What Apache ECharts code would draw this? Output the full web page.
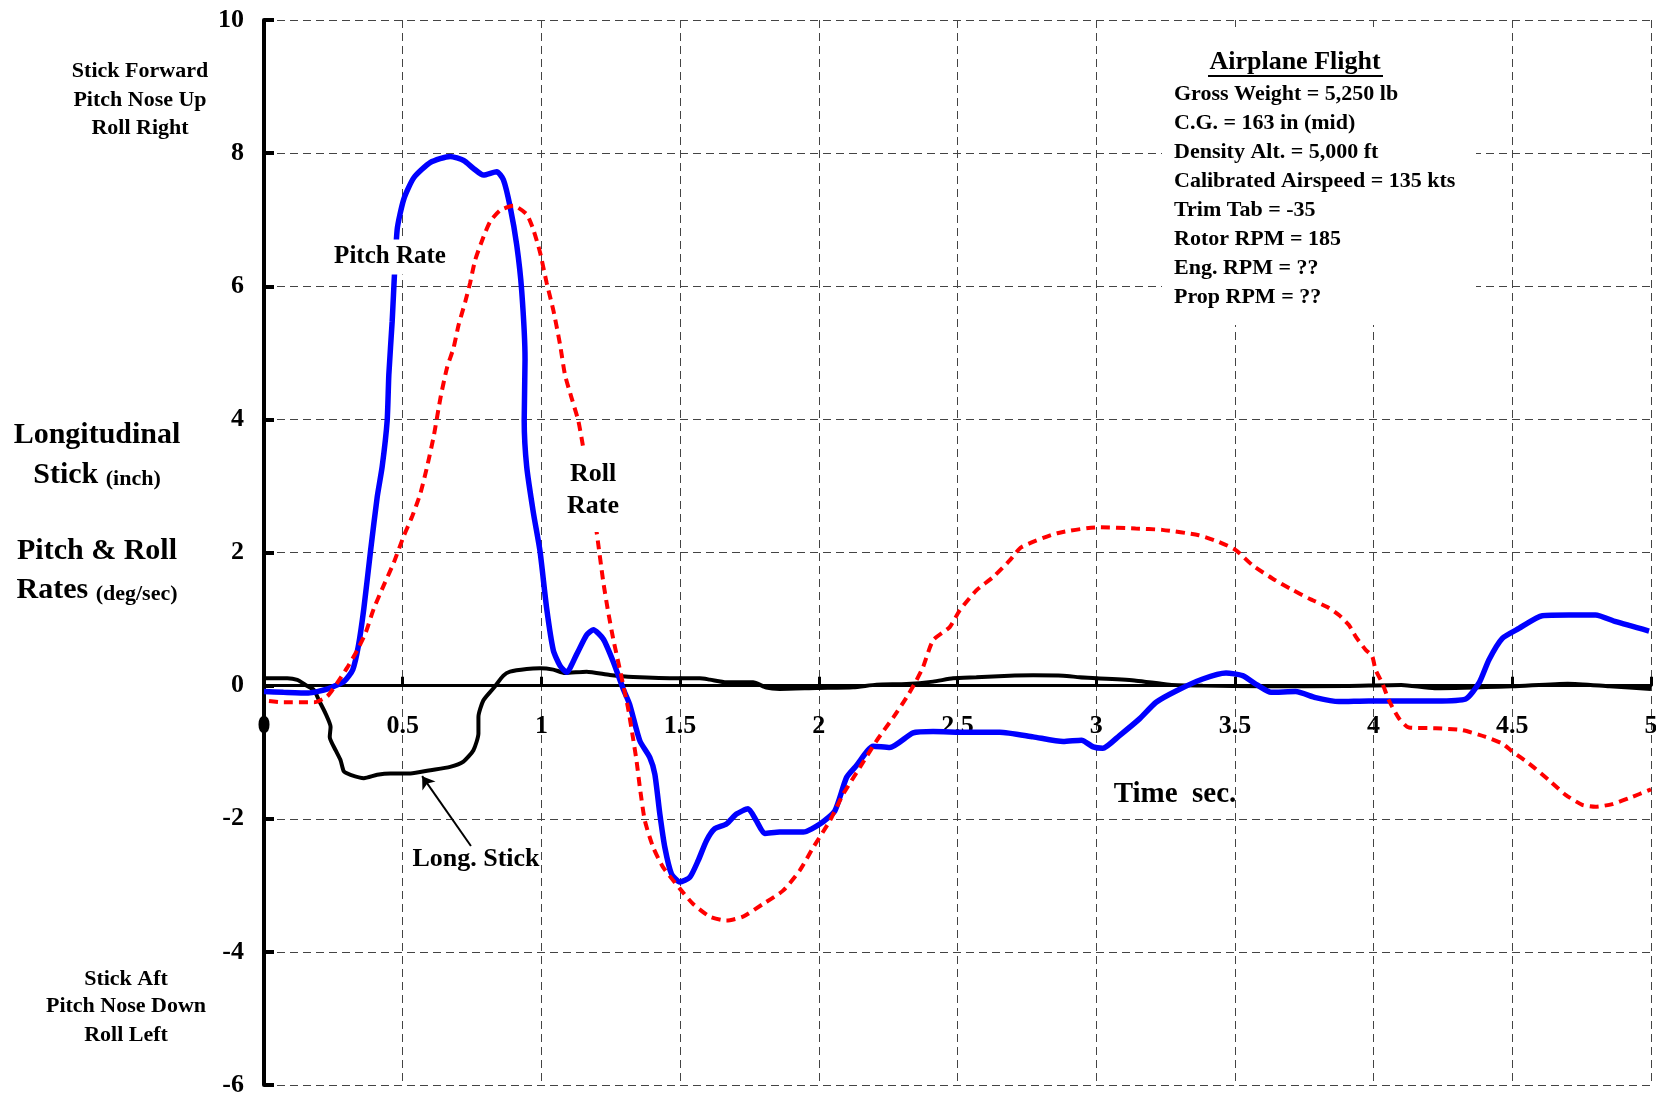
<!DOCTYPE html>
<html>
<head>
<meta charset="utf-8">
<script src="https://cdn.jsdelivr.net/npm/echarts@6/dist/echarts.min.js"></script>
<style>
  html, body { margin: 0; padding: 0; background: #fff; }
  #box { width: 1656px; height: 1094px; }
</style>
</head>
<body>
<div id="box"></div>
<script>
// time (sec) vs value
var pitchRate = [
    [0, -0.09], [0.07, -0.1], [0.16, -0.11], [0.23, -0.05], [0.29, 0.07], [0.32, 0.24],
    [0.34, 0.59], [0.36, 1.16], [0.384, 2.02], [0.408, 2.83], [0.426, 3.29], [0.444, 3.98],
    [0.45, 4.67], [0.462, 5.47], [0.48, 6.85], [0.504, 7.31], [0.54, 7.63], [0.6, 7.86],
    [0.671, 7.95], [0.72, 7.89], [0.755, 7.77], [0.791, 7.67], [0.839, 7.72], [0.863, 7.6],
    [0.887, 7.2], [0.911, 6.62], [0.929, 5.93], [0.941, 4.9], [0.938, 3.98], [0.947, 3.29],
    [0.971, 2.6], [0.995, 2.02], [1.019, 1.16], [1.043, 0.53], [1.067, 0.3], [1.091, 0.2],
    [1.127, 0.47], [1.163, 0.76], [1.187, 0.84], [1.223, 0.7], [1.259, 0.36], [1.295, -0.05],
    [1.318, -0.28], [1.355, -0.83], [1.391, -1.08], [1.409, -1.33], [1.427, -1.93], [1.445, -2.43],
    [1.469, -2.83], [1.499, -2.95], [1.535, -2.88], [1.565, -2.63], [1.595, -2.33], [1.625, -2.15],
    [1.667, -2.08], [1.703, -1.93], [1.745, -1.85], [1.775, -2.03], [1.805, -2.22], [1.859, -2.2],
    [1.944, -2.2], [2.004, -2.08], [2.058, -1.88], [2.1, -1.38], [2.136, -1.2], [2.196, -0.91],
    [2.256, -0.93], [2.34, -0.71], [2.412, -0.69], [2.532, -0.7], [2.652, -0.7], [2.773, -0.77],
    [2.881, -0.84], [2.947, -0.82], [2.989, -0.92], [3.024, -0.94], [3.084, -0.75], [3.156, -0.5],
    [3.216, -0.25], [3.288, -0.08], [3.384, 0.1], [3.468, 0.19], [3.528, 0.15], [3.58, 0.01],
    [3.63, -0.1], [3.719, -0.09], [3.791, -0.18], [3.875, -0.24], [3.983, -0.23], [4.103, -0.23],
    [4.224, -0.23], [4.332, -0.2], [4.38, 0.04], [4.416, 0.39], [4.464, 0.71], [4.524, 0.86],
    [4.608, 1.05], [4.704, 1.06], [4.8, 1.06], [4.873, 0.96], [4.993, 0.82]
];
var rollRate = [
    [0.018, -0.23], [0.07, -0.25], [0.18, -0.25], [0.228, -0.16], [0.264, 0.04], [0.3, 0.27],
    [0.336, 0.53], [0.366, 0.79], [0.396, 1.16], [0.432, 1.51], [0.468, 1.85], [0.504, 2.25],
    [0.534, 2.54], [0.564, 2.89], [0.588, 3.29], [0.612, 3.75], [0.636, 4.32], [0.66, 4.78],
    [0.683, 5.07], [0.701, 5.41], [0.725, 5.76], [0.743, 6.05], [0.761, 6.39], [0.791, 6.74],
    [0.815, 6.97], [0.851, 7.14], [0.899, 7.21], [0.947, 7.08], [0.971, 6.85], [0.995, 6.51],
    [1.019, 6.05], [1.043, 5.64], [1.067, 5.13], [1.085, 4.67], [1.109, 4.32], [1.133, 3.98],
    [1.151, 3.57], [1.175, 2.95], [1.199, 2.31], [1.223, 1.56], [1.241, 1.1], [1.259, 0.7],
    [1.283, 0.24], [1.312, -0.33], [1.33, -0.78], [1.343, -1.13], [1.355, -1.53], [1.373, -2.03],
    [1.403, -2.43], [1.439, -2.73], [1.499, -3.05], [1.547, -3.28], [1.607, -3.47], [1.667, -3.53],
    [1.727, -3.47], [1.799, -3.28], [1.871, -3.08], [1.931, -2.78], [1.98, -2.43], [2.04, -2.03],
    [2.088, -1.63], [2.148, -1.23], [2.208, -0.83], [2.268, -0.48], [2.316, -0.18], [2.352, 0.08],
    [2.376, 0.28], [2.412, 0.68], [2.472, 0.88], [2.508, 1.13], [2.568, 1.43], [2.628, 1.63],
    [2.688, 1.88], [2.73, 2.08], [2.86, 2.29], [3.01, 2.38], [3.142, 2.36], [3.238, 2.34],
    [3.37, 2.26], [3.442, 2.16], [3.502, 2.04], [3.563, 1.81], [3.635, 1.61], [3.707, 1.44],
    [3.767, 1.31], [3.833, 1.18], [3.875, 1.06], [3.911, 0.91], [3.935, 0.74], [3.971, 0.54],
    [3.995, 0.44], [4.007, 0.24], [4.031, 0.04], [4.055, -0.22], [4.091, -0.49], [4.127, -0.63],
    [4.224, -0.64], [4.32, -0.67], [4.404, -0.77], [4.464, -0.87], [4.5, -0.99], [4.56, -1.17],
    [4.632, -1.42], [4.692, -1.64], [4.752, -1.79], [4.8, -1.82], [4.861, -1.78], [4.921, -1.69],
    [5.0, -1.56]
];
var longStick = [
    [0, 0.11], [0.084, 0.11], [0.12, 0.085], [0.15, 0.01], [0.18, -0.065], [0.198, -0.22],
    [0.222, -0.42], [0.24, -0.62], [0.237, -0.77], [0.258, -0.97], [0.276, -1.12], [0.288, -1.29],
    [0.312, -1.34], [0.36, -1.39], [0.408, -1.34], [0.456, -1.32], [0.528, -1.32], [0.6, -1.27],
    [0.671, -1.22], [0.719, -1.14], [0.755, -0.97], [0.773, -0.72], [0.773, -0.47], [0.791, -0.22],
    [0.827, -0.04], [0.863, 0.15], [0.887, 0.21], [0.947, 0.25], [0.995, 0.26], [1.043, 0.24],
    [1.085, 0.19], [1.163, 0.21], [1.247, 0.16], [1.331, 0.13], [1.499, 0.11], [1.571, 0.11],
    [1.607, 0.09], [1.667, 0.05], [1.763, 0.05], [1.811, -0.03], [1.859, -0.05], [1.992, -0.035],
    [2.124, -0.025], [2.208, 0.015], [2.316, 0.025], [2.412, 0.06], [2.484, 0.11], [2.568, 0.125],
    [2.688, 0.15], [2.773, 0.155], [2.881, 0.15], [2.94, 0.125], [3.0, 0.11], [3.144, 0.075],
    [3.264, 0.015], [3.384, 0], [3.6, -0.01], [3.9, -0.005], [4.1, 0.01], [4.22, -0.04],
    [4.5, -0.01], [4.7, 0.03], [4.85, -0.01], [5.0, -0.05]
];
// axis ranges / tick steps
var xRange = [0, 5], xStep = 0.5;
var yRange = [-6, 10], yStep = 2;
// arrow from "Long. Stick" label to the trace
var arrowFrom = [0.746, -2.41], arrowTo = [0.57, -1.36];

var infoLines = [
    'Gross Weight = 5,250 lb',
    'C.G. = 163 in (mid)',
    'Density Alt. = 5,000 ft',
    'Calibrated Airspeed = 135 kts',
    'Trim Tab = -35',
    'Rotor RPM = 185',
    'Eng. RPM = ??',
    'Prop RPM = ??'
];

var FONT = '"Liberation Serif", "Times New Roman", serif';

function txt(x, y, text, size, align, extra) {
    var style = {
        text: text,
        fill: '#000',
        fontFamily: FONT,
        fontWeight: 'bold',
        fontSize: size,
        align: align || 'center',
        verticalAlign: 'middle'
    };
    if (extra) {
        for (var k in extra) style[k] = extra[k];
    }
    return { type: 'text', x: x, y: y, z: 100, style: style };
}

var richSmall = {
    a: { fontFamily: FONT, fontWeight: 'bold', fontSize: 30, verticalAlign: 'bottom' },
    b: { fontFamily: FONT, fontWeight: 'bold', fontSize: 22, verticalAlign: 'bottom' }
};

var graphics = [
    txt(140, 71, 'Stick Forward', 22),
    txt(140, 100, 'Pitch Nose Up', 22),
    txt(140, 128, 'Roll Right', 22),
    txt(97, 435, 'Longitudinal', 30),
    txt(97, 475, '{a|Stick} {b|(inch)}', 30, 'center', { rich: richSmall }),
    txt(97, 551, 'Pitch & Roll', 30),
    txt(97, 590, '{a|Rates} {b|(deg/sec)}', 30, 'center', { rich: richSmall }),
    txt(126, 979, 'Stick Aft', 22),
    txt(126, 1006, 'Pitch Nose Down', 22),
    txt(126, 1035, 'Roll Left', 22),
    // in-plot labels
    txt(390, 257, 'Pitch Rate', 25, 'center', { backgroundColor: '#fff', padding: [5, 2] }),
    txt(593, 490, 'Roll\nRate', 26, 'center', { backgroundColor: '#fff', padding: [10, 4], lineHeight: 32 }),
    txt(476, 859, 'Long. Stick', 26),
    txt(1175, 795, 'Time  sec.', 29),
    // flight info box
    { type: 'rect', z: 90, shape: { x: 1162, y: 27, width: 314, height: 298 }, style: { fill: '#fff' } },
    txt(1295, 62, 'Airplane Flight', 26),
    { type: 'line', z: 100, shape: { x1: 1208, y1: 76, x2: 1383, y2: 76 }, style: { stroke: '#000', lineWidth: 2 } }
];
for (var i = 0; i < infoLines.length; i++) {
    graphics.push(txt(1174, 94 + i * 29, infoLines[i], 22, 'left'));
}

var dom = document.getElementById('box');
var myChart = echarts.init(dom, null, { renderer: 'canvas' });

var gridTop = 20, gridBottom = 9;
var gridH = 1094 - gridTop - gridBottom;
// move the time axis up from the grid bottom to value 0
var zeroOffset = -gridH * (0 - yRange[0]) / (yRange[1] - yRange[0]);

var gridDash = { type: [8, 5], color: '#444', width: 1 };

var option = {
    backgroundColor: '#fff',
    animation: false,
    grid: {
        left: 264,
        right: 5,
        top: gridTop,
        bottom: gridBottom,
        containLabel: false,
        outerBoundsMode: 'none'
    },
    xAxis: {
        type: 'value',
        position: 'bottom',
        offset: zeroOffset,
        min: xRange[0],
        max: xRange[1],
        interval: xStep,
        axisLine: {
            onZero: false,
            lineStyle: { color: '#000', width: 3 }
        },
        axisTick: {
            inside: true,
            length: 9,
            lineStyle: { color: '#000', width: 3 }
        },
        axisLabel: {
            margin: 28,
            color: '#000',
            fontFamily: FONT,
            fontWeight: 'bold',
            fontSize: 26
        },
        splitLine: { show: true, lineStyle: gridDash }
    },
    yAxis: {
        type: 'value',
        min: yRange[0],
        max: yRange[1],
        interval: yStep,
        axisLine: {
            show: true,
            onZero: false,
            lineStyle: { color: '#000', width: 4 }
        },
        axisTick: {
            show: true,
            inside: true,
            length: 10,
            lineStyle: { color: '#000', width: 4 }
        },
        axisLabel: {
            margin: 20,
            color: '#000',
            fontFamily: FONT,
            fontWeight: 'bold',
            fontSize: 26
        },
        splitLine: { show: true, lineStyle: gridDash }
    },
    series: [{
        name: 'Long. Stick',
        type: 'line',
        data: longStick,
        showSymbol: false,
        smooth: 0.2,
        lineStyle: { color: '#000', width: 4 },
        z: 3,
        markLine: {
            silent: true,
            symbol: ['none', 'arrow'],
            symbolSize: 12,
            label: { show: false },
            lineStyle: { color: '#000', width: 2, type: 'solid' },
            data: [[{ coord: arrowFrom }, { coord: arrowTo }]]
        }
    }, {
        name: 'Pitch Rate',
        type: 'line',
        data: pitchRate,
        showSymbol: false,
        smooth: 0.2,
        lineStyle: { color: '#0000ff', width: 5.5 },
        z: 4
    }, {
        name: 'Roll Rate',
        type: 'line',
        data: rollRate,
        showSymbol: false,
        smooth: 0.2,
        lineStyle: { color: '#ff0000', width: 4, type: [9, 6] },
        z: 5
    }],
    graphic: graphics
};

if (option && typeof option === 'object') {
    myChart.setOption(option, true);
}
</script>
</body>
</html>
